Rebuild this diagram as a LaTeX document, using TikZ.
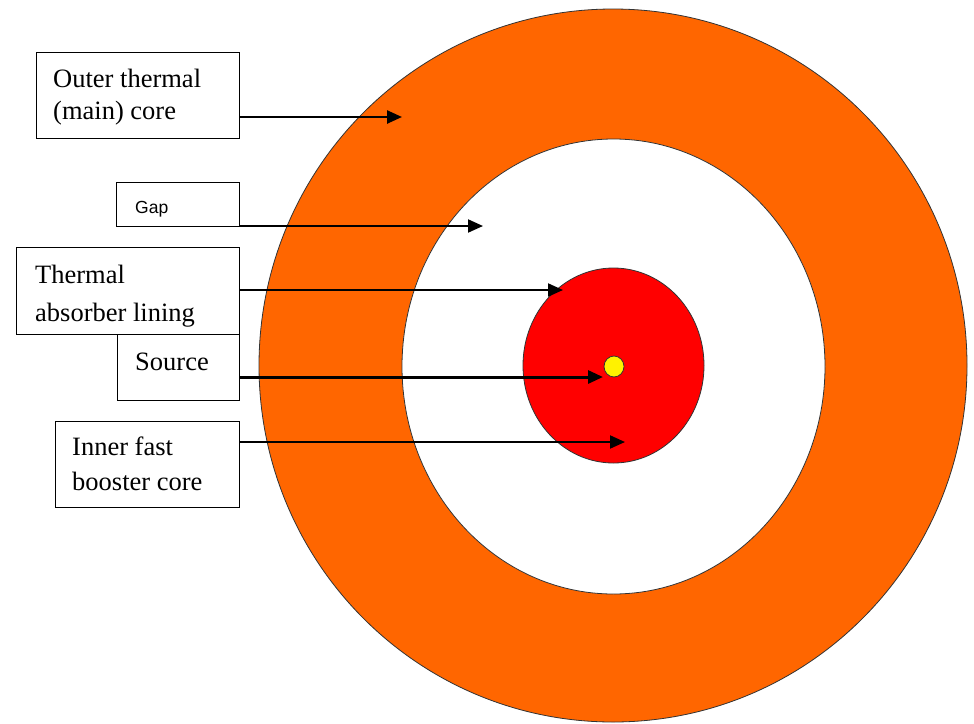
\documentclass[tikz,border=0pt]{standalone}
\usepackage{fontspec}
\setmainfont{Liberation Serif}
\newfontfamily\gapfont{Liberation Sans}
\usetikzlibrary{arrows.meta}
\definecolor{coreorange}{RGB}{255,102,0}
\definecolor{corered}{RGB}{255,0,0}
\definecolor{coreyellow}{RGB}{255,242,0}
\begin{document}
\begin{tikzpicture}[x=1pt,y=-1pt,
  labelbox/.style={draw=black, line width=1pt, fill=white, inner sep=0pt, anchor=north west},
  labeltext/.style={anchor=base west, inner sep=0pt, align=left, font=\fontsize{26.5}{32}\selectfont},
  pointer/.style={line width=2pt, -{Triangle[length=15pt,width=13pt]}},
  ring/.style={draw=black!80, line width=0.8pt}]
\useasboundingbox[fill=white] (0,0) rectangle (974,723);

% rings
\path[ring, fill=coreorange] (613,365.5) ellipse [x radius=354, y radius=356.5];
\path[ring, fill=white] (613.5,366.5) ellipse [x radius=211.5, y radius=227.5];
\path[ring, fill=corered] (613.5,365.5) ellipse [x radius=90.5, y radius=97.5];
\path[ring, fill=coreyellow] (614,366.5) ellipse [x radius=10, y radius=10.5];

% label boxes
\node[labelbox, minimum width=203pt, minimum height=86pt] (outerbox) at (36,52) {};
\node[labelbox, minimum width=123pt, minimum height=44pt] (gapbox) at (116,182) {};
\node[labelbox, minimum width=223pt, minimum height=87pt] (thermbox) at (16,247) {};
\node[labelbox, minimum width=122pt, minimum height=66pt] (srcbox) at (117,334) {};
\node[labelbox, minimum width=184pt, minimum height=86pt] (innerbox) at (55,421) {};

% texts (base anchor = baseline of last line)
\node[labeltext] (outertext) at (53,119) {Outer thermal\\(main) core};
\node[labeltext, font=\gapfont\fontsize{17.5}{20}\selectfont] (gaptext) at (135,213) {Gap};
\node[labeltext] (thermtext) at (35,321) {Thermal\\[6pt]absorber lining};
\node[labeltext] (srctext) at (135,370) {Source};
\node[labeltext] (innertext) at (72,490) {Inner fast\\[3pt]booster core};

% arrow targets
\coordinate (t1) at (402,117);
\coordinate (t2) at (483,226);
\coordinate (t3) at (563,290);
\coordinate (t4) at (603,377);
\coordinate (t5) at (625,442);

\draw[pointer, line width=2.5pt] (outerbox.east |- t1) -- (t1);
\draw[pointer] (gapbox.east |- t2) -- (t2);
\draw[pointer] (thermbox.east |- t3) -- (t3);
\draw[pointer, line width=3pt] (srcbox.east |- t4) -- (t4);
\draw[pointer] (innerbox.east |- t5) -- (t5);
\end{tikzpicture}
\end{document}
